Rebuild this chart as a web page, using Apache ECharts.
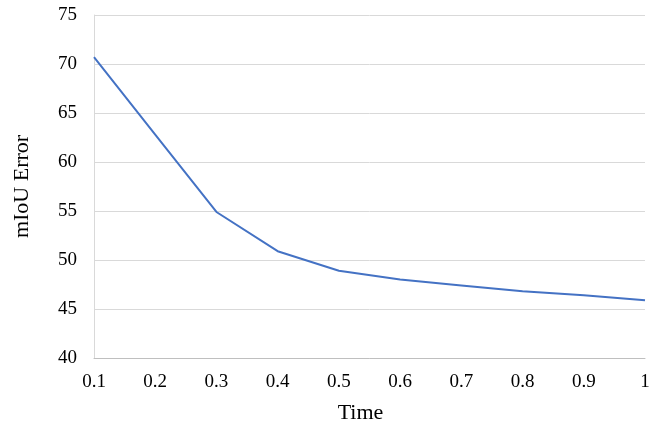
<!DOCTYPE html>
<html><head><meta charset="utf-8">
<script src="https://cdn.jsdelivr.net/npm/echarts@6/dist/echarts.min.js"></script>
<style>html,body{margin:0;padding:0;background:#fff}#c{width:664px;height:430px}</style>
</head><body><div id="c"></div>
<script>
const times = [0.1, 0.2, 0.3, 0.4, 0.5, 0.6, 0.7, 0.8, 0.9, 1];
const miouError = [70.7, 62.8, 54.9, 50.9, 48.9, 48.0, 47.4, 46.8, 46.4, 45.9];
const yTicks = [40, 45, 50, 55, 60, 65, 70, 75];

const font = '"Liberation Serif", "Times New Roman", serif';
const chart = echarts.init(document.getElementById('c'), null, {renderer: 'canvas'});
chart.setOption({
  animation: false,
  grid: {left: 94, right: 19, top: 15, bottom: 72},
  xAxis: {
    type: 'value', min: 0.1, max: 1, interval: 0.1,
    name: 'Time', nameLocation: 'middle', nameGap: 44,
    nameTextStyle: {fontFamily: font, fontSize: 22, color: '#000', padding: [0, 18, 0, 0]},
    axisLine: {show: true, lineStyle: {color: '#bfbfbf', width: 1}},
    axisTick: {show: false},
    splitLine: {show: false},
    axisLabel: {fontFamily: font, fontSize: 19, color: '#000', margin: 15,
      formatter: v => String(Math.round(v * 10) / 10)}
  },
  yAxis: {
    type: 'value', min: yTicks[0], max: yTicks[yTicks.length - 1], interval: 5,
    name: 'mIoU Error', nameLocation: 'middle', nameGap: 61,
    nameTextStyle: {fontFamily: font, fontSize: 22, color: '#000'},
    axisLine: {show: true, lineStyle: {color: '#d9d9d9', width: 1}},
    axisTick: {show: false},
    splitLine: {show: true, lineStyle: {color: '#d9d9d9', width: 1}},
    axisLabel: {fontFamily: font, fontSize: 19, color: '#000', margin: 17}
  },
  series: [{
    type: 'line',
    data: times.map((t, i) => [t, miouError[i]]),
    showSymbol: false,
    lineStyle: {color: '#4472c4', width: 2},
    itemStyle: {color: '#4472c4'}
  }]
});
</script></body></html>
